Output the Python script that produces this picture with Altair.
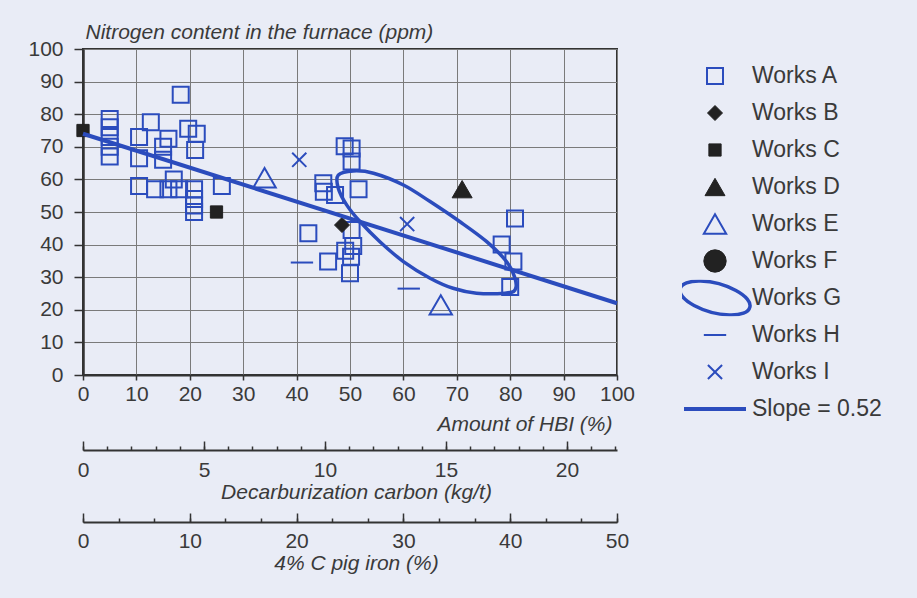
import altair as alt
import pandas as pd

# ---------------- data ----------------
works = ["Works A", "Works B", "Works C", "Works D", "Works E",
         "Works F", "Works G", "Works H", "Works I", "Slope = 0.52"]

a_hbi = [5, 5, 5, 5, 5, 10.5, 10.5, 10.5, 12.7, 13.5, 15, 15, 16, 16, 17, 18,
         18.3, 19.7, 21.3, 21, 20.8, 20.8, 20.8, 20.8, 26,
         49, 50.3, 50.3, 45, 45.1, 47.2, 51.6, 42.2, 50.3, 50.6, 49.1, 50.2, 45.9, 50,
         80.9, 78.4, 80.6, 80]
a_n = [78.5, 76, 73, 70, 67, 73, 66.5, 58, 77.5, 57, 70, 66, 72.5, 57, 60, 57,
       86, 75.5, 74, 69, 57, 54, 52, 50, 58,
       70.2, 69.5, 65.5, 58.8, 56.2, 55.2, 57, 43.5, 44.5, 39.6, 38.1, 36.3, 34.8, 31.2,
       48, 40, 34.8, 27]
b_hbi = [48.5]
b_n = [46]
c_hbi = [0, 25]
c_n = [75, 50]
d_hbi = [71]
d_n = [57]
e_hbi = [34, 67]
e_n = [60.5, 21.5]
h_hbi = [41, 61]
h_n = [34.5, 26.5]
i_hbi = [40.5, 60.7]
i_n = [66, 46.3]

# Works G outline (traced around the loop)
g_hbi = [47.8, 50.6, 54.4, 60, 65, 70.6, 75.6, 79.3, 80.9, 80.9, 79, 73.7, 69.3,
         65, 60, 55.6, 51.9, 49.4, 47.8]
g_n = [61.3, 62.6, 61.9, 58.3, 53.2, 47, 40.9, 34.8, 29.7, 26.1, 25.1, 25.1, 26.6,
       29.7, 34.8, 40.9, 47, 52.1, 57.3]

# regression line
reg_hbi = [0, 100]
reg_n = [74, 22]

# axis tick values
hbi_ticks = [0, 10, 20, 30, 40, 50, 60, 70, 80, 90, 100]
n_ticks = [0, 10, 20, 30, 40, 50, 60, 70, 80, 90, 100]
decarb_major = [0, 5, 10, 15, 20]
decarb_minor = [0, 1, 2, 3, 4, 5, 6, 7, 8, 9, 10, 11, 12, 13, 14, 15, 16, 17, 18, 19, 20, 21, 22]
decarb_max = 22.07
pig_major = [0, 10, 20, 30, 40, 50]
pig_minor = [0, 3.33, 6.67, 10, 13.33, 16.67, 20, 23.33, 26.67, 30, 33.33, 36.67,
             40, 43.33, 46.67, 50]

# ---------------- styles ----------------
BLUE = "#2b4cbd"
DARK = "#222222"
TXT = "#3a3a3a"
GRID = "#7a7a7a"
FONT = "Liberation Sans"
BG = "#e9ecf6"

ELLIPSE = "M-1.207 -0.324 A1.25 0.5 15 1 0 1.207 0.324 A1.25 0.5 15 1 0 -1.207 -0.324 Z"
DASH = "M-1 0 L1 0"
XCROSS = "M-1 -1 L1 1 M-1 1 L1 -1"

shape_range = ["square", "diamond", "square", "triangle-up", "triangle-up",
               "circle", ELLIPSE, DASH, XCROSS, DASH]
size_range = [256, 225, 150, 400, 500, 500, 3318, 500, 200, 3844]
fill_range = ["transparent", DARK, DARK, DARK, "transparent", DARK,
              "transparent", "transparent", "transparent", "transparent"]
stroke_range = [BLUE, DARK, DARK, DARK, BLUE, DARK, BLUE, BLUE, BLUE, BLUE]
sw_range = [2, 1, 1, 1, 2, 1, 3.5, 2, 2, 4]

rows = []
for name, xs_, ys_ in [("Works A", a_hbi, a_n), ("Works B", b_hbi, b_n),
                       ("Works C", c_hbi, c_n), ("Works D", d_hbi, d_n),
                       ("Works E", e_hbi, e_n), ("Works H", h_hbi, h_n),
                       ("Works I", i_hbi, i_n)]:
    for x, y in zip(xs_, ys_):
        rows.append({"hbi": x, "n": y, "works": name})
scatter_df = pd.DataFrame(rows)


def xs():
    return alt.Scale(domain=[0, 100], nice=False, zero=False)


def ys():
    return alt.Scale(domain=[0, 100], nice=False, zero=False)


def y_axis():
    return alt.Axis(
        values=n_ticks, grid=True, gridColor=GRID, gridWidth=1,
        tickSize=9, tickColor="#333", tickWidth=1.5,
        domainColor="#333", domainWidth=2.5, labelFlush=False,
        labelFont=FONT, labelFontSize=21, labelColor=TXT, labelPadding=11,
        title="Nitrogen content in the furnace (ppm)", titleFont=FONT,
        titleFontSize=21, titleFontStyle="italic", titleFontWeight="normal",
        titleColor=TXT, titleAngle=0, titleAlign="left", titleX=2, titleY=-11,
        titleBaseline="alphabetic")


legend = alt.Legend(
    title=None, orient="none", legendX=599, legendY=8.8, columns=1,
    labelFont=FONT, labelFontSize=23, labelColor=TXT, labelOffset=4,
    clipHeight=36.4, rowPadding=0, padding=0, labelLimit=300,
)

scatter = alt.Chart(scatter_df).mark_point(filled=False, opacity=1).encode(
    x=alt.X("hbi:Q", scale=xs(), axis=alt.Axis(
        values=hbi_ticks, grid=True, gridColor=GRID, gridWidth=1,
        tickSize=5, tickColor="#333", tickWidth=1.5,
        domainColor="#333", domainWidth=2, labelFlush=False,
        labelFont=FONT, labelFontSize=21, labelColor=TXT, labelPadding=3,
        title="Amount of HBI (%)", titleFont=FONT, titleFontSize=21,
        titleFontStyle="italic", titleFontWeight="normal", titleColor=TXT,
        titleAlign="right", titleX=529, titleY=55, titleBaseline="alphabetic")),
    y=alt.Y("n:Q", scale=ys(), axis=y_axis()),
    shape=alt.Shape("works:N", title=None,
                    scale=alt.Scale(domain=works, range=shape_range), legend=legend),
    size=alt.Size("works:N", title=None,
                  scale=alt.Scale(type="ordinal", domain=works, range=size_range),
                  legend=legend),
    fill=alt.Fill("works:N", title=None,
                  scale=alt.Scale(domain=works, range=fill_range), legend=legend),
    stroke=alt.Stroke("works:N", title=None,
                      scale=alt.Scale(domain=works, range=stroke_range), legend=legend),
    strokeWidth=alt.StrokeWidth("works:N", title=None,
                                scale=alt.Scale(type="ordinal", domain=works, range=sw_range),
                                legend=legend),
)

reg_df = pd.DataFrame({"hbi": reg_hbi, "n": reg_n})
reg = alt.Chart(reg_df).mark_line(color=BLUE, strokeWidth=4).encode(
    x=alt.X("hbi:Q", scale=xs(), axis=None),
    y=alt.Y("n:Q", scale=ys(), axis=y_axis()),
)

g_df = pd.DataFrame({"hbi": g_hbi, "n": g_n, "i": list(range(len(g_hbi)))})
ellipse = alt.Chart(g_df).mark_line(color=BLUE, strokeWidth=3.5,
                                    interpolate="cardinal-closed").encode(
    x=alt.X("hbi:Q", scale=xs(), axis=None),
    y=alt.Y("n:Q", scale=ys(), axis=y_axis()),
    order="i:Q",
)


def axis_layer(values, dmax, offset, major, title, label_pad, title_y):
    df = pd.DataFrame({"v": values})
    if major:
        ax = alt.Axis(orient="top", offset=offset, values=values, grid=False,
                      tickSize=9, tickColor="#333", tickWidth=1.5,
                      domainColor="#333", domainWidth=2, labelFlush=False,
                      labelFont=FONT, labelFontSize=21, labelColor=TXT,
                      labelPadding=label_pad, labelBaseline="middle",
                      title=title, titleFont=FONT, titleFontSize=21,
                      titleFontStyle="italic", titleFontWeight="normal",
                      titleColor=TXT, titleX=273, titleY=title_y,
                      titleAlign="center", titleBaseline="middle")
    else:
        ax = alt.Axis(orient="top", offset=offset, values=values, grid=False,
                      tickSize=4, tickColor="#333", tickWidth=1.5,
                      domain=False, labels=False, title=None)
    return alt.Chart(df).mark_point(opacity=0).encode(
        x=alt.X("v:Q", scale=alt.Scale(domain=[0, dmax], nice=False, zero=False),
                axis=ax)
    )


dec_major = axis_layer(decarb_major, decarb_max, -401, True,
                       "Decarburization carbon (kg/t)", -29, 42)
dec_minor = axis_layer(decarb_minor, decarb_max, -401, False, None, 0, 0)
pig_maj = axis_layer(pig_major, 50, -473, True, "4% C pig iron (%)", -28, 41)
pig_min = axis_layer(pig_minor, 50, -473, False, None, 0, 0)

chart = alt.layer(scatter, ellipse, reg, dec_major, dec_minor, pig_maj, pig_min).resolve_scale(
    x="independent"
).resolve_axis(x="independent").properties(
    width=534, height=326, autosize="none",
    padding={"left": 83, "top": 49, "right": 300, "bottom": 223},
    background=BG,
).configure_view(stroke="#333", strokeWidth=2)

chart.save("out.html", embed_options={"renderer": "svg", "actions": False})
